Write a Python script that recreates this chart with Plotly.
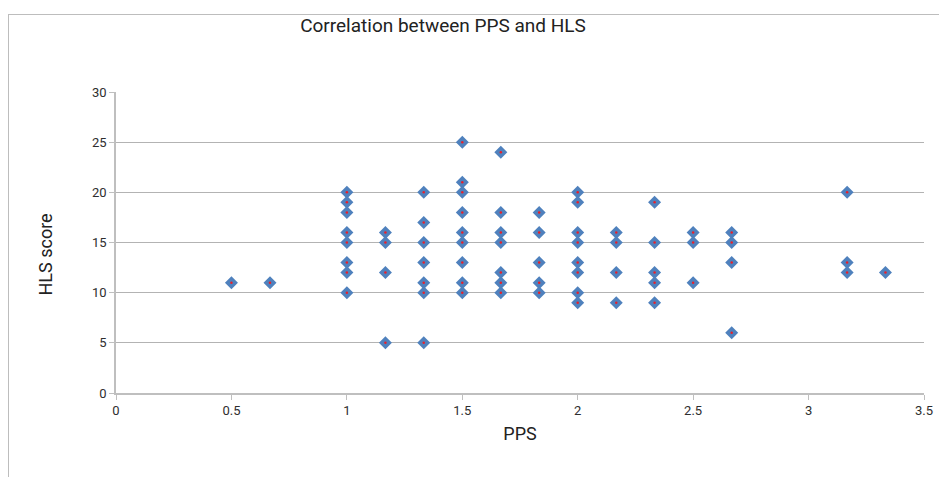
import plotly.graph_objects as go

pps = [0.5, 0.667,
       1, 1, 1, 1, 1, 1, 1, 1,
       1.167, 1.167, 1.167, 1.167,
       1.333, 1.333, 1.333, 1.333, 1.333, 1.333, 1.333,
       1.5, 1.5, 1.5, 1.5, 1.5, 1.5, 1.5, 1.5, 1.5,
       1.667, 1.667, 1.667, 1.667, 1.667, 1.667, 1.667,
       1.833, 1.833, 1.833, 1.833, 1.833,
       2, 2, 2, 2, 2, 2, 2, 2,
       2.167, 2.167, 2.167, 2.167,
       2.333, 2.333, 2.333, 2.333, 2.333,
       2.5, 2.5, 2.5,
       2.667, 2.667, 2.667, 2.667,
       3.167, 3.167, 3.167,
       3.333]
hls = [11, 11,
       20, 19, 18, 16, 15, 13, 12, 10,
       16, 15, 12, 5,
       20, 17, 15, 13, 11, 10, 5,
       25, 21, 20, 18, 16, 15, 13, 11, 10,
       24, 18, 16, 15, 12, 11, 10,
       18, 16, 13, 11, 10,
       20, 19, 16, 15, 13, 12, 10, 9,
       16, 15, 12, 9,
       19, 15, 12, 11, 9,
       16, 15, 11,
       16, 15, 13, 6,
       20, 13, 12,
       12]

x_ticks = [0, 0.5, 1, 1.5, 2, 2.5, 3, 3.5]
x_tick_labels = ["0", "0.5", "1", "1.5", "2", "2.5", "3", "3.5"]
y_ticks = [0, 5, 10, 15, 20, 25, 30]

W, H = 939, 477
ml, mr, mt, mb = 116, 15, 92, 84
pw, ph = W - ml - mr, H - mt - mb

fig = go.Figure()
fig.add_trace(go.Scatter(x=pps, y=hls, mode="markers", name="HLS score",
                         marker=dict(symbol="diamond", size=10, color="#4F81BD",
                                     line=dict(width=0)),
                         showlegend=False))
fig.add_trace(go.Scatter(x=pps, y=hls, mode="markers", hoverinfo="skip",
                         marker=dict(symbol="circle", size=2.5, color="#E8202A",
                                     line=dict(width=0)),
                         showlegend=False))

def px_x(p):
    return (p - ml) / pw

def px_y(p):
    return 1 - (p - mt) / ph

fig.update_layout(
    width=W, height=H,
    margin=dict(l=ml, r=mr, t=mt, b=mb, autoexpand=False),
    paper_bgcolor="white", plot_bgcolor="white",
    font=dict(family="Roboto, Arial, sans-serif", color="#333333", size=13),
    title=dict(text="Correlation between PPS and HLS",
               x=px_x(443), xref="paper", xanchor="center",
               y=1 - 25 / H, yref="container", yanchor="middle",
               font=dict(size=19, color="#222222")),
    xaxis=dict(range=[0, 3.5], tickvals=x_ticks, ticktext=x_tick_labels,
               automargin=False,
               showgrid=False, zeroline=False,
               showline=True, linecolor="#BFBFBF", linewidth=1.5,
               ticks="outside", tickcolor="#BFBFBF", ticklen=5, tickwidth=1,
               tickfont=dict(size=13, color="#2E2E2E"),
               title=dict(text="PPS", font=dict(size=18, color="#222222"), standoff=10)),
    yaxis=dict(range=[0, 30], tickvals=y_ticks,
               automargin=False,
               showgrid=True, gridcolor="#B3B3B3", gridwidth=1.3,
               zeroline=False,
               showline=True, linecolor="#BFBFBF", linewidth=1.5,
               ticks="outside", tickcolor="#BFBFBF", ticklen=5, tickwidth=1,
               tickfont=dict(size=13, color="#2E2E2E")),
    annotations=[dict(text="HLS score", x=px_x(32), y=px_y(255),
                      xref="paper", yref="paper", showarrow=False,
                      textangle=-90, font=dict(size=18, color="#222222"))],
    shapes=[
        dict(type="line", xref="paper", yref="paper",
             x0=px_x(8), x1=px_x(W + 20), y0=px_y(14.5), y1=px_y(14.5),
             line=dict(color="#BDBDBD", width=1)),
        dict(type="line", xref="paper", yref="paper",
             x0=px_x(8.5), x1=px_x(8.5), y0=px_y(14.5), y1=px_y(H + 20),
             line=dict(color="#BDBDBD", width=1)),
    ],
)

fig.write_html("out.html",
               config={"displayModeBar": False},
               post_script="document.body.style.margin='0';"
                           "document.documentElement.style.overflow='hidden';"
                           "document.body.style.overflow='hidden';")
